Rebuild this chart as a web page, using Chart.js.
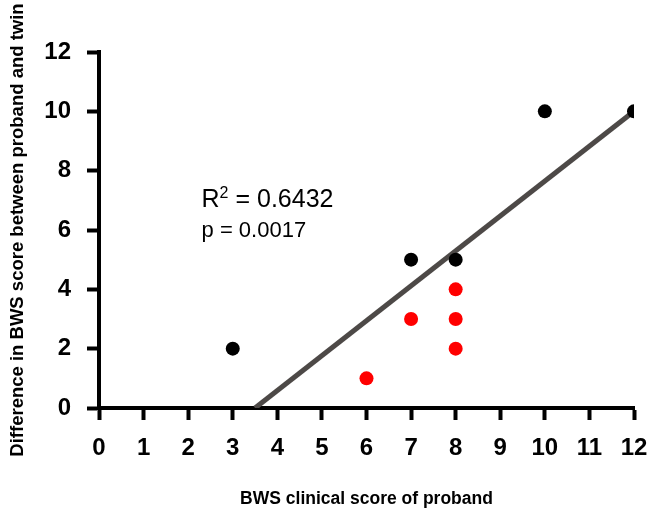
<!DOCTYPE html>
<html>
<head>
<meta charset="utf-8">
<script src="https://cdn.jsdelivr.net/npm/chart.js@4.4.1/dist/chart.umd.min.js"></script>
<style>
  html, body { margin: 0; padding: 0; background: #fff; }
  canvas { display: block; }
</style>
</head>
<body>
<canvas id="bws" width="656" height="510"></canvas>
<script>
// BWS score scatter: proband score vs difference with twin
const blackX = [3, 7, 8, 10, 12];
const blackY = [2, 5, 5, 10, 10];
const redX   = [6, 7, 8, 8, 8];
const redY   = [1, 3, 4, 3, 2];
const fitX   = [3.5, 12];
const fitY   = [0, 10];
const xTickValues = [0, 1, 2, 3, 4, 5, 6, 7, 8, 9, 10, 11, 12];
const yTickValues = [0, 2, 4, 6, 8, 10, 12];
const statLines = ['0.6432', '0.0017'];
const statAnchor = { x: 2.3, y: [6.77, 5.77] };

const FONT = 'Arial, "Liberation Sans", sans-serif';

function toPoints(xs, ys){ return xs.map((v, i) => ({ x: v, y: ys[i] })); }

// R² / p text, anchored on data coordinates
const statsText = {
  id: 'statsText',
  afterDatasetsDraw(chart){
    const ctx = chart.ctx;
    const sx = chart.scales.x, sy = chart.scales.y;
    const x0 = sx.getPixelForValue(statAnchor.x);
    const y1 = sy.getPixelForValue(statAnchor.y[0]);
    const y2 = sy.getPixelForValue(statAnchor.y[1]);
    ctx.save();
    ctx.fillStyle = '#000';
    ctx.textAlign = 'left';
    ctx.textBaseline = 'alphabetic';
    ctx.font = '25px ' + FONT;
    ctx.fillText('R', x0, y1);
    let cx = x0 + ctx.measureText('R').width;
    ctx.font = '16px ' + FONT;
    ctx.fillText('2', cx, y1 - 9);
    cx += ctx.measureText('2').width;
    ctx.font = '25px ' + FONT;
    ctx.fillText(' = ' + statLines[0], cx, y1);
    ctx.font = '22px ' + FONT;
    ctx.fillText('p = ' + statLines[1], x0, y2);
    ctx.restore();
  }
};

new Chart(document.getElementById('bws'), {
  type: 'scatter',
  data: {
    datasets: [
      { data: toPoints(blackX, blackY), backgroundColor: '#000', borderColor: '#000', borderWidth: 0, pointRadius: 7, pointHoverRadius: 7 },
      { data: toPoints(redX, redY), backgroundColor: '#ff0000', borderColor: '#ff0000', borderWidth: 0, pointRadius: 7, pointHoverRadius: 7 },
      { type: 'line', data: toPoints(fitX, fitY), borderColor: '#4d4947', borderWidth: 5, pointRadius: 0, fill: false, tension: 0 }
    ]
  },
  options: {
    responsive: false,
    animation: false,
    layout: { padding: { left: 0, right: 22, top: 52, bottom: 0 } },
    plugins: { legend: { display: false }, tooltip: { enabled: false } },
    scales: {
      x: {
        type: 'linear', min: 0, max: 12,
        afterBuildTicks: s => { s.ticks = xTickValues.map(v => ({ value: v })); },
        afterFit: s => { s.height = 102; s.paddingLeft = 0; s.paddingRight = 0; },
        grid: { drawOnChartArea: false, drawTicks: true, tickLength: 12, tickWidth: 4, tickColor: '#000' },
        border: { display: true, width: 4, color: '#000' },
        ticks: { color: '#000', padding: 14, maxRotation: 0, autoSkip: false, font: { family: FONT, size: 24, weight: 'bold' } },
        title: { display: true, text: 'BWS clinical score of proband', color: '#000', padding: { top: 0, bottom: 0 }, font: { family: FONT, size: 17.5, weight: 'bold' } }
      },
      y: {
        type: 'linear', min: 0, max: 12,
        afterBuildTicks: s => { s.ticks = yTickValues.map(v => ({ value: v })); },
        afterFit: s => { s.width = 99; },
        grid: { drawOnChartArea: false, drawTicks: true, tickLength: 12, tickWidth: 4, tickColor: '#000' },
        border: { display: true, width: 4, color: '#000' },
        ticks: { color: '#000', padding: 16, autoSkip: false, font: { family: FONT, size: 24, weight: 'bold' } },
        title: { display: true, text: 'Difference in BWS score between proband and twin', color: '#000', padding: { top: 7, bottom: 0 }, font: { family: FONT, size: 18.5, weight: 'bold' } }
      }
    }
  },
  plugins: [statsText]
});
</script>
</body>
</html>
